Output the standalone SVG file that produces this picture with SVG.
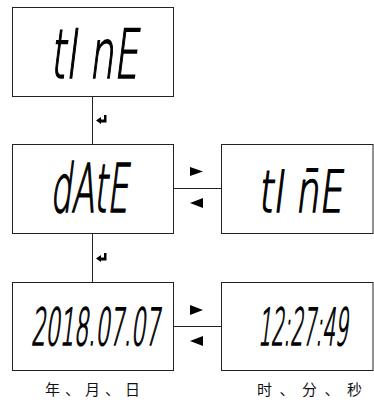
<svg xmlns="http://www.w3.org/2000/svg" width="374" height="405" viewBox="0 0 374 405">
<style>
.box{fill:#fff;stroke:#222;stroke-width:1}
.ln{stroke:#222;stroke-width:1;fill:none}
.lcd{font-family:"DejaVu Sans",sans-serif;font-weight:200;fill:#000;stroke:#000;stroke-width:1.6}
.cjk{font-family:"Noto Sans CJK SC",sans-serif;font-size:15px;fill:#111}
.ico{fill:#000}
</style>
<rect width="374" height="405" fill="#fff"/>
<g id="connectors">
<line class="ln" x1="92.5" y1="96.5" x2="92.5" y2="144.5"/>
<line class="ln" x1="92.5" y1="233.5" x2="92.5" y2="282.5"/>
<line class="ln" x1="173.5" y1="188.5" x2="221.5" y2="188.5"/>
<line class="ln" x1="173.5" y1="326.5" x2="221.5" y2="326.5"/>
<path class="ico" d="M96,120.5 L101,117 L101,119.5 L104,119.5 L104,115 L106.5,115 L106.5,122.5 L101,122.5 L101,124 Z"/>
<path class="ico" d="M96,258.5 L101,255 L101,257.5 L104,257.5 L104,253 L106.5,253 L106.5,260.5 L101,260.5 L101,262 Z"/>
<path class="ico" d="M190,167 L203,171.5 L190,176 Z"/>
<path class="ico" d="M203,198 L190,203 L203,208 Z"/>
<path class="ico" d="M190,305 L203,310 L190,315 Z"/>
<path class="ico" d="M203,336 L190,341 L203,346 Z"/>
</g>
<g id="node-time">
<rect class="box" x="12.5" y="7.5" width="161" height="89"/>
<g transform="translate(50,78) skewX(-7) scale(0.57,1)"><text class="lcd" x="0" y="0" font-size="68">tI nE</text></g>
</g>
<g id="node-date">
<rect class="box" x="12.5" y="144.5" width="161" height="89"/>
<g transform="translate(50,212) skewX(-7) scale(0.5,1)"><text class="lcd" x="0" y="0" font-size="67">dAtE</text></g>
</g>
<g id="node-time2">
<rect class="box" x="221.5" y="144.5" width="151.5" height="89"/>
<g transform="translate(258,212) skewX(-7) scale(0.64,1)"><text class="lcd" x="0" y="0" font-size="58">tI n̄E</text></g>
</g>
<g id="node-ymd">
<rect class="box" x="12.5" y="282.5" width="161" height="88"/>
<g transform="translate(31,345) skewX(-7) scale(0.44,1)"><text class="lcd" x="0" y="0" font-size="51">2018.07.07</text></g>
<text class="cjk" x="45" y="395" letter-spacing="5">年、月、日</text>
</g>
<g id="node-hms">
<rect class="box" x="221.5" y="282.5" width="151.5" height="88"/>
<g transform="translate(258,345) skewX(-7) scale(0.39,1)"><text class="lcd" x="0" y="0" font-size="51">12:27:49</text></g>
<text class="cjk" x="257" y="395" letter-spacing="7.5">时、分、秒</text>
</g>
</svg>
